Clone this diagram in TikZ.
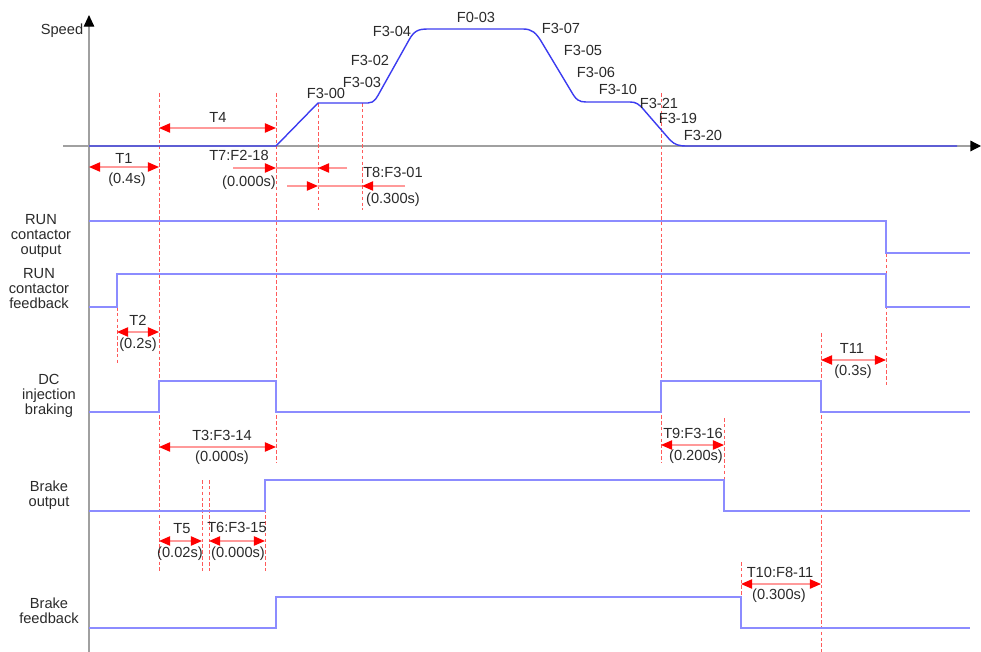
\documentclass[tikz,border=0pt]{standalone}
\usepackage{fontspec}
\setmainfont{Liberation Sans}
\usetikzlibrary{arrows.meta}
\definecolor{sigblue}{HTML}{8C8CFF}
\definecolor{spdblue}{HTML}{3C3CF0}
\definecolor{guidered}{HTML}{FF5A5A}
\definecolor{dimred}{HTML}{FF9A9A}
\definecolor{axgray}{HTML}{A0A0A0}
\definecolor{txtgray}{HTML}{2A2A2A}

\begin{document}
\begin{tikzpicture}[x=0.03cm, y=-0.03cm,
  sig/.style={sigblue, line width=0.9pt},
  spd/.style={spdblue, line width=1.2pt},
  guide/.style={guidered, line width=0.6pt, dash pattern=on 3pt off 2pt},
  dim/.style={dimred, line width=1pt,
    {Triangle[length=9.5pt, width=8pt, color=red]}-{Triangle[length=9.5pt, width=8pt, color=red]}},
  half/.style={dimred, line width=1pt, -{Triangle[length=9.5pt, width=8pt, color=red]}},
  lbl/.style={text=txtgray, font=\fontsize{12.5}{12.8}\selectfont, inner sep=0pt, align=center}]

\useasboundingbox (0,0) rectangle (981,652);

% --- Time instants ---
\coordinate (tFb) at (117,0);   % RUN feedback closes
\coordinate (tDc) at (159,0);   % DC braking on
\coordinate (tT5) at (202,0);
\coordinate (tT6) at (209,0);
\coordinate (tBo) at (265,0);   % brake output on
\coordinate (tGo) at (276,0);   % speed starts
\coordinate (tF0) at (318,0);
\coordinate (tF1) at (362,0);
\coordinate (tSt) at (661,0);   % stop speed reached
\coordinate (tBc) at (724,0);   % brake output off
\coordinate (tBf) at (741,0);   % brake feedback off
\coordinate (tDe) at (821,0);   % DC braking off
\coordinate (tOff) at (886,0);  % RUN contactor off

% --- Axes ---
\draw[axgray, line width=1pt, -{Triangle[length=10pt, width=9pt, color=black]}]
  (89,652) -- (89,15);
\draw[axgray, line width=1pt, -{Triangle[length=9pt, width=9pt, color=black]}]
  (63,146) -- (981,146);
\node[lbl] (speed) at (62,31) {Speed};

% --- Guide lines ---
\draw[guide] (tDc |- 0,93) -- (tDc |- 0,573);
\draw[guide] (tGo |- 0,93) -- (tGo |- 0,463);
\draw[guide] (tF0 |- 0,103) -- (tF0 |- 0,210);
\draw[guide] (tF1 |- 0,103) -- (tF1 |- 0,210);
\draw[guide] (tSt |- 0,93) -- (tSt |- 0,463);
\draw[guide] (tFb |- 0,307) -- (tFb |- 0,363);
\draw[guide] (tOff |- 0,253) -- (tOff |- 0,387);
\draw[guide] (tDe |- 0,333) -- (tDe |- 0,652);
\draw[guide] (tBc |- 0,418) -- (tBc |- 0,511);
\draw[guide] (tBf |- 0,562) -- (tBf |- 0,600);
\draw[guide] (tT5 |- 0,480) -- (tT5 |- 0,573);
\draw[guide] (tT6 |- 0,480) -- (tT6 |- 0,573);
\draw[guide] (tBo |- 0,480) -- (tBo |- 0,573);

% --- Speed curve ---
\draw[spd] (89,146) -- (276,146) -- (318,103) -- (368,103)
  .. controls (375,103) and (377,97) .. (381,90) -- (409,40)
  .. controls (414,31) and (418,29) .. (428,29) -- (523,29)
  .. controls (532,29) and (536,33) .. (541,41) -- (571,91)
  .. controls (576,100) and (579,102) .. (586,102) -- (630,102)
  .. controls (636,102) and (639,104) .. (644,110) -- (670,140)
  .. controls (675,145) and (679,146) .. (687,146) -- (957,146);

\node[lbl] (f300) at (326,93) {F3-00};
\node[lbl] (f303) at (362,82) {F3-03};
\node[lbl] (f302) at (370,60) {F3-02};
\node[lbl] (f304) at (392,31) {F3-04};
\node[lbl] (f003) at (476,17) {F0-03};
\node[lbl] (f307) at (561,28) {F3-07};
\node[lbl] (f305) at (583,50) {F3-05};
\node[lbl] (f306) at (596,72) {F3-06};
\node[lbl] (f310) at (618,89) {F3-10};
\node[lbl] (f321) at (659,103) {F3-21};
\node[lbl] (f319) at (678,118) {F3-19};
\node[lbl] (f320) at (703,135) {F3-20};

% --- Signal names ---
\node[lbl] (runout) at (41,236) {RUN\\contactor\\output};
\node[lbl] (runfb) at (39,289) {RUN\\contactor\\feedback};
\node[lbl] (dcb) at (49,396) {DC\\injection\\braking};
\node[lbl] (brkout) at (49,495) {Brake\\output};
\node[lbl] (brkfb) at (49,611) {Brake\\feedback};

% --- Signals ---
\draw[sig] (89,221) -- (886,221) -- (886,253) -- (970,253);
\draw[sig] (89,307) -- (117,307) -- (117,274) -- (886,274) -- (886,307) -- (970,307);
\draw[sig] (89,412) -- (159,412) -- (159,381) -- (276,381) -- (276,412)
  -- (661,412) -- (661,381) -- (821,381) -- (821,412) -- (970,412);
\draw[sig] (89,511) -- (265,511) -- (265,480) -- (724,480) -- (724,511) -- (970,511);
\draw[sig] (89,628) -- (276,628) -- (276,597) -- (741,597) -- (741,628) -- (970,628);

% --- Timing marks ---
\draw[dim] (tDc |- 0,128) -- (tGo |- 0,128);
\node[lbl] (t4) at (218,117) {T4};

\draw[dim] (89,167) -- (tDc |- 0,167);
\node[lbl] (t1) at (124,158) {T1};
\node[lbl] (t1v) at (127,180) {(0.4s)};

\draw[half] (233,168) -- (tGo |- 0,168);
\draw[dimred, line width=1pt] (tGo |- 0,168) -- (tF0 |- 0,168);
\draw[half] (347,168) -- (tF0 |- 0,168);
\node[lbl] (t7) at (239,155) {T7:F2-18};
\node[lbl] (t7v) at (249,183) {(0.000s)};

\draw[half] (287,186) -- (tF0 |- 0,186);
\draw[dimred, line width=1pt] (tF0 |- 0,186) -- (tF1 |- 0,186);
\draw[half] (405,186) -- (tF1 |- 0,186);
\node[lbl] (t8) at (393,172) {T8:F3-01};
\node[lbl] (t8v) at (393,200) {(0.300s)};

\draw[dim] (tFb |- 0,332) -- (tDc |- 0,332);
\node[lbl] (t2) at (138,320) {T2};
\node[lbl] (t2v) at (138,345) {(0.2s)};

\draw[dim] (tDe |- 0,360) -- (tOff |- 0,360);
\node[lbl] (t11) at (852,348) {T11};
\node[lbl] (t11v) at (853,372) {(0.3s)};

\draw[dim] (tDc |- 0,447) -- (tGo |- 0,447);
\node[lbl] (t3) at (222,435) {T3:F3-14};
\node[lbl] (t3v) at (222,458) {(0.000s)};

\draw[dim] (tSt |- 0,445) -- (tBc |- 0,445);
\node[lbl] (t9) at (693,433) {T9:F3-16};
\node[lbl] (t9v) at (696,457) {(0.200s)};

\draw[dim] (tDc |- 0,541) -- (tT5 |- 0,541);
\node[lbl] (t5) at (182,529) {T5};
\node[lbl] (t5v) at (180,554) {(0.02s)};

\draw[dim] (tT6 |- 0,541) -- (tBo |- 0,541);
\node[lbl] (t6) at (237,527) {T6:F3-15};
\node[lbl] (t6v) at (238,554) {(0.000s)};

\draw[dim] (tBf |- 0,584) -- (tDe |- 0,584);
\node[lbl] (t10) at (780,572) {T10:F8-11};
\node[lbl] (t10v) at (779,596) {(0.300s)};

\end{tikzpicture}
\end{document}
